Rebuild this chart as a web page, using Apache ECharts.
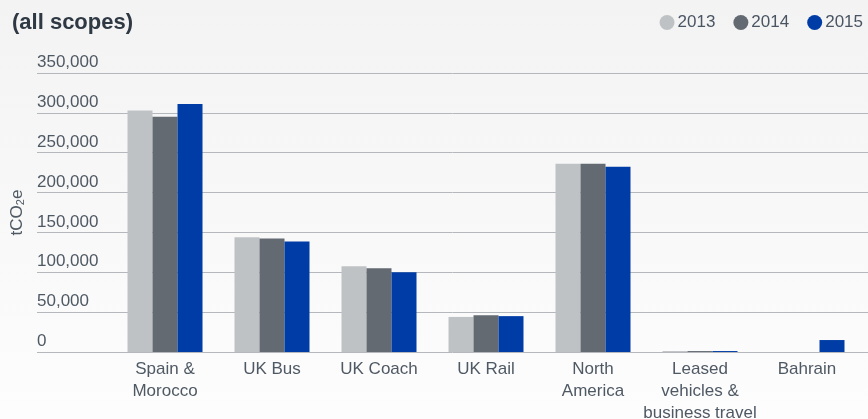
<!DOCTYPE html>
<html>
<head>
<meta charset="utf-8">
<script src="https://cdn.jsdelivr.net/npm/echarts@6/dist/echarts.min.js"></script>
<style>
  html, body { margin: 0; padding: 0; }
  #chart { width: 868px; height: 419px; }
</style>
</head>
<body>
<div id="chart"></div>
<script>
const categories = ['Spain &\nMorocco', 'UK Bus', 'UK Coach', 'UK Rail', 'North\nAmerica', 'Leased\nvehicles &\nbusiness travel', 'Bahrain'];
const years = ['2013', '2014', '2015'];
const v2013 = [303000, 144000, 107500, 44000, 236000, 1200, 0];
const v2014 = [295000, 142500, 105000, 46000, 236000, 1200, 0];
const v2015 = [311000, 138500, 100000, 45000, 232500, 1200, 15000];
const yTicks = [0, 50000, 100000, 150000, 200000, 250000, 300000, 350000];

const colors = ['#bfc2c5', '#636a72', '#003ca6'];
const font = '"Liberation Sans", Arial, sans-serif';

const chart = echarts.init(document.getElementById('chart'));

const seriesData = [v2013, v2014, v2015];

chart.setOption({
  backgroundColor: new echarts.graphic.LinearGradient(0, 0, 0, 1, [
    { offset: 0, color: '#f3f3f3' },
    { offset: 1, color: '#fdfdfd' }
  ]),
  textStyle: { fontFamily: font },
  title: {
    text: '(all scopes)',
    left: 7,
    top: 7,
    textStyle: { fontSize: 22, fontWeight: 'bold', color: '#2f3944', fontFamily: font }
  },
  legend: {
    data: years,
    right: 0,
    top: 9,
    icon: 'circle',
    itemWidth: 15,
    itemHeight: 15,
    itemGap: 18,
    textStyle: { fontSize: 17, color: '#4a5563', padding: [0, 0, 0, -2] }
  },
  grid: [
    { left: 37, right: 0, top: 73, bottom: 67, outerBoundsMode: 'none', containLabel: false },
    { left: 111.5, right: 7.5, top: 73, bottom: 67, outerBoundsMode: 'none', containLabel: false }
  ],
  xAxis: [
    { gridIndex: 0, type: 'category', data: [''], show: false },
    {
      gridIndex: 1,
      type: 'category',
      data: categories,
      axisLine: { show: false },
      axisTick: { show: false },
      axisLabel: {
        color: '#4f5964',
        fontSize: 17,
        lineHeight: 22,
        margin: 6,
        interval: 0
      }
    }
  ],
  yAxis: [
    {
      gridIndex: 0,
      type: 'value',
      min: yTicks[0],
      max: yTicks[yTicks.length - 1],
      interval: 50000,
      name: '{a|tCO}{b|2}{a|e}',
      nameLocation: 'middle',
      nameRotate: 90,
      nameGap: 7,
      nameTextStyle: {
        rich: {
          a: { fontSize: 17, color: '#4f5964', lineHeight: 17, verticalAlign: 'top' },
          b: { fontSize: 11, color: '#4f5964', lineHeight: 11, verticalAlign: 'bottom', padding: [9, 0, 0, 0] }
        }
      },
      axisLine: { show: false },
      axisTick: { show: false },
      axisLabel: {
        inside: true,
        margin: 0,
        align: 'left',
        verticalAlign: 'bottom',
        padding: [0, 0, 2, 0],
        fontSize: 17,
        color: '#4f5964',
        formatter: v => v.toLocaleString('en-US')
      },
      splitLine: { lineStyle: { color: '#b4b8bc', width: 1 } }
    },
    {
      gridIndex: 1,
      type: 'value',
      min: yTicks[0],
      max: yTicks[yTicks.length - 1],
      show: false,
      splitLine: { show: false }
    }
  ],
  series: years.map((y, i) => ({
    name: y,
    type: 'bar',
    xAxisIndex: 1,
    yAxisIndex: 1,
    data: seriesData[i],
    barWidth: 25,
    barGap: '0%',
    itemStyle: { color: colors[i] },
    emphasis: { disabled: true }
  })),
  color: colors
});
</script>
</body>
</html>
